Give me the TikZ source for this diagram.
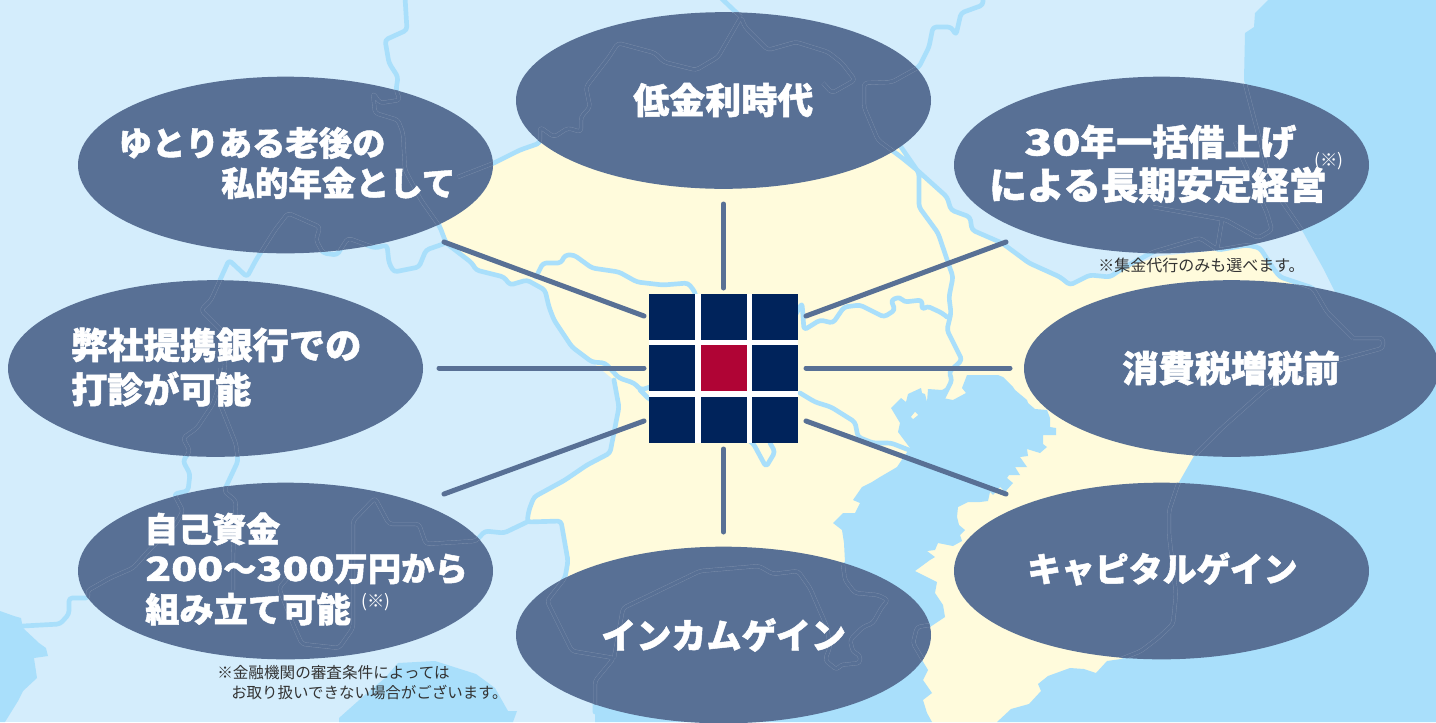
\documentclass[tikz,border=0pt]{standalone}
\usepackage{fontspec}
\usepackage{graphicx}
\usetikzlibrary{shapes.geometric}
\setmainfont{Noto Sans CJK JP}[BoldFeatures={FakeBold=1.4}]
\definecolor{bgblue}{HTML}{D4EDFC}
\definecolor{seablue}{HTML}{A9DFFB}
\definecolor{landyel}{HTML}{FFFBDC}
\definecolor{ovalcol}{HTML}{587095}
\definecolor{hubnavy}{HTML}{00235B}
\definecolor{hubred}{HTML}{B00435}
\definecolor{notecol}{HTML}{333333}
\newcommand{\widedigits}[1]{\scalebox{1.28}[1]{#1}}
\tikzset{
  ovalshape/.style={ellipse,fill=ovalcol,draw=none,inner sep=0pt,minimum width=311.25pt,minimum height=132.5pt},
  hubcell/.style={rectangle,fill=hubnavy,draw=none,inner sep=0pt,minimum width=34.5pt,minimum height=34.5pt},
  spoke/.style={draw=ovalcol,line width=3.75pt,line cap=round},
  river/.style={draw=seablue,line width=3.5pt,line join=round,line cap=round,rounded corners=2.5pt},
  tracehalo/.style={draw=ovalcol!78!white,line width=3pt,line join=round,rounded corners=2.5pt},
  tracecore/.style={draw=ovalcol,line width=2.45pt,line join=round,rounded corners=2.5pt},
  bigtext/.style={anchor=west,inner sep=0pt,text=white,font=\fontsize{#1}{#1}\selectfont\bfseries},
  notetext/.style={anchor=west,inner sep=0pt,text=notecol,font=\fontsize{#1}{#1}\selectfont},
  marktext/.style={anchor=west,inner sep=0pt,text=white,font=\fontsize{13pt}{13pt}\selectfont},
}
% river and boundary lines
\def\riverA{(405,-3)--(407,30)--(385,40)--(389,63)--(398,77)--(396,90)--(400,100)--(380,103)--(373,93)--(375,113)--(398,120)--(403,133)--(405,170)--(421,200)--(440,227)--(446,243)--(472,263)--(476,270)--(504,277)--(510,285)--(527,280)--(545,290)--(549,307)--(554,320)--(572,347)--(592,362)--(605,363)--(619,378)--(634,383)--(641,390)--(650,387) }
\def\riverB{(614,380)--(619,407)--(610,453)--(587,465)--(565,480)--(534,497)--(529,510)--(527,522)--(561,521)--(568,561)--(565,578)--(547,601)--(572,651)--(614,658)--(595,681)--(595,712) }
\def\riverC{(527,522)--(504,533)--(485,531)--(476,541)--(426,544)--(419,524)--(389,524)--(375,498)--(353,521)--(353,628)--(339,648)--(302,644)--(293,624)--(279,588)--(290,575) }
\def\riverD{(446,243)--(426,250)--(419,267)--(394,272)--(389,263)--(387,245)--(375,248)--(348,238)--(337,255)--(323,253)--(316,240)--(320,227)--(288,213)--(275,230)--(256,260)--(247,277)--(229,260)--(211,300)--(201,310)--(224,333)--(225,368)--(213,404)--(197,428)--(183,438)--(190,451)--(183,461)--(190,474)--(188,491)--(174,494)--(183,511)--(175,525)--(151,548)--(133,568)--(110,578)--(87,591)--(89,598)--(69,598)--(69,614)--(60,624)--(23,626) }
\def\riverE{(220,368)--(220,404)--(236,444)--(238,461)--(224,491)--(236,501)--(233,554)--(233,590) }
\def\riverF{(458,177)--(494,163)--(520,150)--(540,143)--(540,127)--(554,137)--(568,128)--(581,132)--(581,117)--(590,107)--(586,87)--(609,57)--(618,43)--(655,53)--(664,62)--(696,70)--(718,57)--(741,17)--(745,27)--(768,50)--(796,42)--(828,52)--(842,63)--(855,80)--(832,93)--(823,83) (720,-3)--(741,17) }
\def\riverG{(983,-3)--(983,5)--(961,13)--(956,35)--(951,27)--(933,27)--(929,47)--(919,67)--(892,82)--(864,83)--(864,107)--(878,140)--(901,157)--(917,170)--(947,197)--(951,210)--(970,217)--(972,230)--(1002,243)--(1029,263)--(1060,277)--(1070,285)--(1090,275)--(1110,277)--(1123,268)--(1153,252)--(1200,238)--(1218,250)--(1247,245)--(1260,248)--(1273,268)--(1280,277)--(1313,288)--(1327,312)--(1353,338) }
\def\riverH{(536,277)--(543,263)--(561,263)--(565,255)--(574,255)--(592,268)--(619,272)--(637,282)--(663,285)--(688,283)--(695,292)--(700,320)--(748,323)--(790,325)--(802,303)--(804,330)--(820,320)--(833,323)--(844,307)--(860,305)--(884,317)--(895,310)--(891,300)--(900,297)--(904,302)--(922,300)--(922,310)--(927,306)--(942,313)--(947,317) }
\def\riverI{(901,147)--(919,173)--(919,207)--(938,233)--(953,277)--(949,297)--(951,313)--(947,330)--(962,360)--(949,372)--(952,380)--(943,398) }
\def\riverJ{(640,390)--(650,400)--(697,410)--(753,443)--(766,467)--(775,452)--(770,443) (800,393)--(815,402)--(831,407)--(855,422)--(858,437)--(873,443)--(891,443)--(909,450) }
% lines that only show inside the ovals
\def\traceA{(1244,80)--(1258,133)--(1272,187)--(1303,232) (1235,142)--(1267,213)--(1272,230)--(1258,238)--(1226,220)--(1153,207) (1222,220)--(1217,250) }
\def\traceB{(1353,338)--(1383,338)--(1383,348)--(1336,361)--(1267,388)--(1222,428)--(1194,456)--(1178,484)--(1169,511)--(1169,534)--(1176,594)--(1173,624)--(1158,638)--(1141,651)--(1121,659) }
\def\traceC{(614,658)--(623,608)--(700,571)--(759,566)--(773,574)--(798,571)--(810,588)--(827,627)--(830,647)--(825,660)--(837,670)--(840,665)--(860,663)--(860,655)--(853,652)--(850,640)--(863,627)--(873,623)--(882,607)--(888,600)--(878,595)--(855,593)--(845,580)--(843,565) (930,625)--(917,627)--(913,643)--(923,660) }
\def\ovalclip{(723.5,100.5) ellipse [x radius=207.5,y radius=88.3] (285.5,165) ellipse [x radius=207.5,y radius=88.3] (1161.5,165) ellipse [x radius=207.5,y radius=88.3] (215.5,368.5) ellipse [x radius=207.5,y radius=88.3] (1231.5,368.5) ellipse [x radius=207.5,y radius=88.3] (285.5,571) ellipse [x radius=207.5,y radius=88.3] (1161.5,571) ellipse [x radius=207.5,y radius=88.3] (723.5,635) ellipse [x radius=207.5,y radius=88.3] }
\begin{document}
\begin{tikzpicture}[x=0.75pt,y=-0.75pt]
\useasboundingbox (0,0) rectangle (1436,722);
% ground
\fill[bgblue] (0,0) rectangle (1436,722);
\fill[landyel] (494,163)--(540,143)--(901,147)--(917,170)--(947,197)--(951,210)--(970,217)--(972,230)--(1002,243)--(1029,263)--(1060,277)--(1070,285)--(1090,275)--(1110,277)--(1123,268)--(1160,256)--(1220,250)--(1247,245)--(1260,248)--(1273,268)--(1280,277)--(1313,288)--(1400,400)--(1400,722)--(924,722)--(700,650)--(565,578)--(568,561)--(561,521)--(527,520)--(531,498)--(563,484)--(590,464)--(610,453)--(619,407)--(614,380)--(592,362)--(572,347)--(554,320)--(549,307)--(545,290)--(527,280)--(510,285)--(504,277)--(476,270)--(472,263)--(446,243)--(442,230)--(440,203)--(458,177)--cycle;
% open sea, right
\fill[seablue] (1268,0)--(1255,13)--(1254,27)--(1245,33)--(1244,80)--(1258,133)--(1272,187)--(1303,232)--(1323,268)--(1335,292)--(1353,330)--(1383,345)--(1336,361)--(1267,388)--(1222,428)--(1194,456)--(1178,484)--(1169,511)--(1169,534)--(1176,594)--(1173,624)--(1158,638)--(1141,651)--(1121,659)--(1107,661)--(1096,673)--(1084,669)--(1070,668)--(1048,676)--(1038,684)--(1041,691)--(1029,704)--(1011,709)--(997,722)--(1436,722)--(1436,0)--cycle;
% bay
\fill[seablue] (891,408)--(897,402)--(901,398)--(906,402)--(908,394)--(921,388)--(922,393)--(925,394)--(927,402)--(928,389)--(942,390)--(947,387)--(943,398)--(953,400)--(966,393)--(962,388)--(967,375)--(998,375)--(1003,377)--(1013,387)--(1015,390)--(1027,400)--(1028,403)--(1035,409)--(1047,410)--(1050,418)--(1050,427)--(1056,428)--(1056,435)--(1043,435)--(1043,444)--(1047,447)--(1040,453)--(1027,449)--(1028,456)--(1020,457)--(1027,467)--(1015,467)--(1020,475)--(1009,475)--(1007,478)--(1013,483)--(1005,492)--(1000,487)--(993,495)--(990,492)--(988,501)--(980,502)--(968,502)--(958,507)--(957,517)--(959,525)--(965,530)--(960,535)--(962,541)--(953,546)--(938,543)--(935,550)--(927,551)--(935,557)--(930,560)--(915,571)--(937,582)--(935,593)--(943,605)--(945,617)--(930,627)--(922,660)--(928,670)--(923,680)--(932,693)--(923,700)--(927,713)--(932,722)--(595,722)--(595,700)--(620,650)--(845,562)--(844,543)--(842,530)--(833,523)--(843,513)--(855,513)--(860,503)--(853,500)--(862,487)--(872,482)--(880,477)--(892,470)--(897,467)--(903,458)--(910,448)--(898,432)--(900,423)--cycle;
\fill[landyel] (911,417)--(915,412)--(918,415)--(913,419)--cycle;
% lower left waters
\fill[seablue] (0,611)--(14,616)--(21,618)--(23,628)--(39,643)--(46,648)--(48,656)--(34,658)--(37,678)--(23,691)--(18,701)--(5,722)--(0,722)--cycle;
\fill[seablue] (339,722)--(339,718)--(366,694)--(385,678)--(398,663)--(435,661)--(476,674)--(495,688)--(508,711)--(517,711)--(513,722)--cycle;
% rivers
\draw[river] \riverA \riverB \riverC \riverD \riverE \riverF \riverG \riverH \riverI \riverJ;
% ovals
\node[ovalshape] (ovalTop) at (723.5,100.5) {};
\node[ovalshape] (ovalUL) at (285.5,165) {};
\node[ovalshape] (ovalUR) at (1161.5,165) {};
\node[ovalshape] (ovalML) at (215.5,368.5) {};
\node[ovalshape] (ovalMR) at (1231.5,368.5) {};
\node[ovalshape] (ovalLL) at (285.5,571) {};
\node[ovalshape] (ovalLR) at (1161.5,571) {};
\node[ovalshape] (ovalBot) at (723.5,635) {};
% the map seen through the ovals
\begin{scope}
\clip \ovalclip;
\draw[tracehalo] \riverA \riverB \riverC \riverD \riverE \riverF \riverG \riverH \riverI \traceA \traceB \traceC;
\draw[tracecore] \riverA \riverB \riverC \riverD \riverE \riverF \riverG \riverH \riverI \traceA \traceB \traceC;
\end{scope}
% hub
\fill[white] (649,294) rectangle (798,443);
\node[hubcell] (cellA) at (672,317) {};
\node[hubcell] (cellB) at (724,317) {};
\node[hubcell] (cellC) at (775,317) {};
\node[hubcell] (cellD) at (672,368) {};
\node[hubcell,fill=hubred] (cellE) at (724,368) {};
\node[hubcell] (cellF) at (775,368) {};
\node[hubcell] (cellG) at (672,420) {};
\node[hubcell] (cellH) at (724,420) {};
\node[hubcell] (cellI) at (775,420) {};
% connector ends
\coordinate (topOut) at (723.5,204);
\coordinate (topIn) at (723.5,288);
\coordinate (botOut) at (723.5,532);
\coordinate (botIn) at (723.5,449);
\coordinate (leftOut) at (439,368);
\coordinate (leftIn) at (644,368);
\coordinate (rightOut) at (1010,368);
\coordinate (rightIn) at (806,368);
\coordinate (ulOut) at (444,242);
\coordinate (ulIn) at (644,316);
\coordinate (urOut) at (1006,242);
\coordinate (urIn) at (806,316);
\coordinate (llOut) at (444,494);
\coordinate (llIn) at (644,421);
\coordinate (lrOut) at (1006,494);
\coordinate (lrIn) at (806,421);
\draw[spoke] (topIn) -- (topOut);
\draw[spoke] (botIn) -- (botOut);
\draw[spoke] (leftIn) -- (leftOut);
\draw[spoke] (rightIn) -- (rightOut);
\draw[spoke] (ulIn) -- (ulOut);
\draw[spoke] (urIn) -- (urOut);
\draw[spoke] (llIn) -- (llOut);
\draw[spoke] (lrIn) -- (lrOut);
% labels
\node[bigtext=27pt] (lblTop) at (633,100) {低金利時代};
\node[bigtext=25pt] (lblUL1) at (118.5,143) {ゆとりある老後の};
\node[bigtext=25.2pt] (lblUL2) at (221,183) {私的年金として};
\node[bigtext=27pt] (lblUR1) at (1024,142) {\widedigits{30}年一括借上げ};
\node[bigtext=28.2pt] (lblUR2) at (989,185) {による長期安定経営};
\node[marktext] (markUR) at (1314,161) {(※)};
\node[notetext=12pt] (noteUR) at (1098,265) {※集金代行のみも選べます。};
\node[bigtext=27.2pt] (lblML1) at (71,345) {弊社提携銀行での};
\node[bigtext=27pt] (lblML2) at (71,389) {打診が可能};
\node[bigtext=27.2pt] (lblMR) at (1122,368) {消費税増税前};
\node[bigtext=25.5pt] (lblLL1) at (144,529) {自己資金};
\node[bigtext=25pt] (lblLL2) at (145,569) {\widedigits{200}～\widedigits{300}万円から};
\node[bigtext=25.7pt] (lblLL3) at (145,609) {組み立て可能};
\node[marktext] (markLL) at (361,602) {(※)};
\node[notetext=11.7pt] (noteLL1) at (217,673) {※金融機関の審査条件によっては};
\node[notetext=11.6pt] (noteLL2) at (231,692) {お取り扱いできない場合がございます。};
\node[bigtext=25.4pt] (lblLR) at (1027,569) {キャピタルゲイン};
\node[bigtext=26.3pt] (lblBot) at (601,635) {インカムゲイン};
\end{tikzpicture}
\end{document}
